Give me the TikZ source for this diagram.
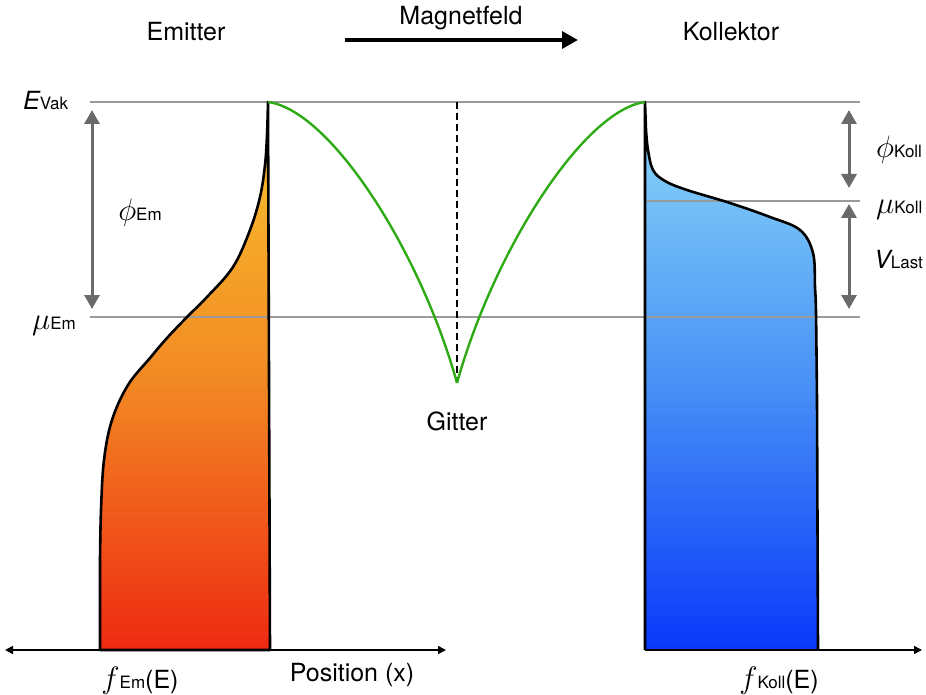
\documentclass[tikz,border=0pt]{standalone}
\usepackage{fix-cm}
\usepackage{fontspec}
\setmainfont{TeX Gyre Heros}
\usetikzlibrary{arrows.meta}
\definecolor{lvl}{HTML}{9A9A9A}
\definecolor{garrow}{HTML}{6A6A6A}
\definecolor{grn}{HTML}{2EAA14}
\definecolor{emtop}{HTML}{F9C52E}
\definecolor{emmid}{HTML}{F28A24}
\definecolor{embot}{HTML}{EE2A12}
\definecolor{kotop}{HTML}{8DD9F8}
\definecolor{komid}{HTML}{4A93F6}
\definecolor{kobot}{HTML}{0A38FA}
\tikzset{
  lbl/.style={font=\fontsize{25}{28}\selectfont, inner sep=0pt},
  level/.style={draw=lvl, line width=1.8pt},
  garr/.style={draw=garrow, line width=3pt, {Triangle[width=15pt,length=14pt]}-{Triangle[width=15pt,length=14pt]}},
  outline/.style={draw=black, line width=2.6pt, line join=round},
  potential/.style={draw=grn, line width=2.4pt},
  axis/.style={draw=black, line width=1.6pt}
}
\newcommand{\smallsub}[1]{{\fontsize{17}{17}\selectfont #1}}
\newcommand{\bigsym}[1]{{\fontsize{31}{31}\selectfont$#1$}}
\begin{document}
\begin{tikzpicture}[x=1pt,y=-1pt]
\useasboundingbox (0,0) rectangle (926,695);

% filled distributions
\path[top color=emtop, bottom color=embot, middle color=emmid]
  (100,650) -- plot[smooth,tension=0.6] coordinates {(100,560) (101,510) (104,460) (112,420) (128,385) (150,358) (167,338) (187,317) (207,297) (233,267) (250,230) (260,197) (265,165) (267,135) (268,102)} -- (270,650) -- cycle;
\path[top color=kotop, bottom color=kobot, middle color=komid]
  (645,650) -- (645,102) -- plot[smooth,tension=0.6] coordinates {(646,130) (648,150) (653,170) (665,181) (687,190) (730,203) (770,217) (800,230) (813,253) (815,287) (816,313) (817,400)} -- (818,650) -- cycle;

% levels
\coordinate (vakL) at (90,102);
\coordinate (vakR) at (860,102);
\coordinate (muEL) at (90,317);
\coordinate (muER) at (860,317);
\coordinate (muKL) at (647,201);
\coordinate (muKR) at (860,201);
\draw[level] (vakL) -- (vakR);
\draw[level] (muEL) -- (muER);
\draw[level] (muKL) -- (muKR);

% outlines
\draw[outline] (100,650) -- plot[smooth,tension=0.6] coordinates {(100,560) (101,510) (104,460) (112,420) (128,385) (150,358) (167,338) (187,317) (207,297) (233,267) (250,230) (260,197) (265,165) (267,135) (268,102)} -- (270,650) -- cycle;
\draw[outline] (645,650) -- (645,102) -- plot[smooth,tension=0.6] coordinates {(646,130) (648,150) (653,170) (665,181) (687,190) (730,203) (770,217) (800,230) (813,253) (815,287) (816,313) (817,400)} -- (818,650);

% potential
\coordinate (peakL) at (268,102);
\coordinate (grid) at (457,383);
\coordinate (peakR) at (645,102);
\coordinate (gridTop) at (457,102);
\draw[black, line width=2.8pt, dash pattern=on 7pt off 4pt] (gridTop) -- (grid);
\draw[potential] (peakL) .. controls (330,110) and (420,250) .. (grid);
\draw[potential] (grid) .. controls (494,250) and (584,110) .. (peakR);

% gray arrows
\coordinate (aE1) at (92,110);
\coordinate (aE2) at (92,309);
\coordinate (aK1) at (849,110);
\coordinate (aK2) at (849,188);
\coordinate (aV1) at (849,204);
\coordinate (aV2) at (849,309);
\draw[garr] (aE1) -- (aE2);
\draw[garr] (aK1) -- (aK2);
\draw[garr] (aV1) -- (aV2);

% axes
\coordinate (ax1) at (5,650);
\coordinate (ax2) at (446,650);
\coordinate (ax3) at (645,650);
\coordinate (ax4) at (922,650);
\draw[axis, {Triangle[width=8pt,length=8pt]}-{Triangle[width=8pt,length=8pt]}] (ax1) -- (ax2);
\draw[axis, -{Triangle[width=8pt,length=8pt]}] (ax3) -- (ax4);

% magnetic field arrow
\coordinate (m1) at (345,40);
\coordinate (m2) at (578,40);
\draw[black, line width=3.5pt, -{Triangle[width=17pt,length=16pt]}] (m1) -- (m2);

% labels
\node[lbl] (emitter) at (186,32) {Emitter};
\node[lbl] (magnet) at (461,18) {Magnetfeld};
\node[lbl] (koll) at (731,32) {Kollektor};
\node[lbl] (gitter) at (457,421) {Gitter};
\node[lbl] (pos) at (352,675) {Position (x)};
\node[lbl, anchor=base west] (evak) at (23,110) {\itshape E\upshape\smallsub{Vak}};
\node[lbl, anchor=base] (phiem) at (140,220) {\bigsym{\phi}\smallsub{Em}};
\node[lbl, anchor=base] (muem) at (54,329) {\bigsym{\mu}\smallsub{Em}};
\node[lbl, anchor=base west] (phikoll) at (876,158) {\bigsym{\phi}\smallsub{Koll}};
\node[lbl, anchor=base west] (mukoll) at (876,214) {\bigsym{\mu}\smallsub{Koll}};
\node[lbl, anchor=base west] (vlast) at (874,268) {\itshape V\upshape\smallsub{Last}};
\node[lbl, anchor=base] (fem) at (140,688) {\bigsym{f}\smallsub{Em}(E)};
\node[lbl, anchor=base] (fkoll) at (779,688) {\bigsym{f}\smallsub{Koll}(E)};
\end{tikzpicture}
\end{document}
